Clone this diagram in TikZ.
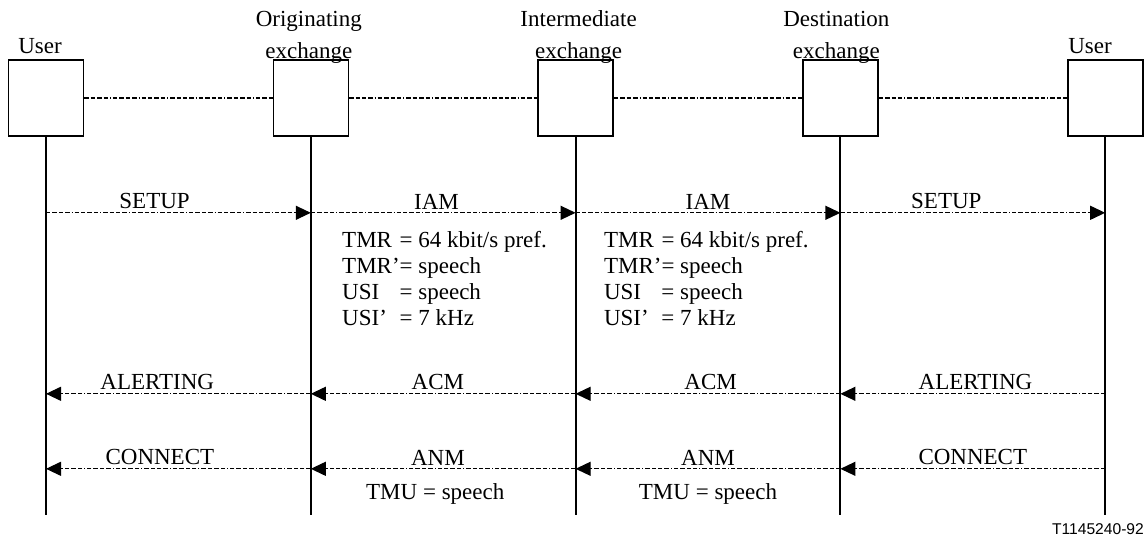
\documentclass[tikz,border=0pt]{standalone}
\usepackage{fontspec}
\setmainfont{Liberation Serif}
\newfontfamily\figidfont{Liberation Sans}
\usetikzlibrary{arrows.meta, positioning}
\tikzstyle{party} = [rectangle, minimum width=37.5pt, minimum height=38pt, inner sep=0pt, draw=black, line width=0.8pt]
\tikzstyle{partyname} = [align=center, inner sep=0pt, font=\fontsize{11.5}{16}\selectfont]
\tikzstyle{lifeline} = [line width=1pt]
\tikzstyle{link} = [line width=0.6pt, dash pattern=on 2.2pt off 1pt on 2.2pt off 1pt on 2.2pt off 1pt on 2.2pt off 1pt on 0.5pt off 1pt]
\tikzstyle{arrow} = [link, -{Triangle[length=7.5pt, width=7pt]}]
\tikzstyle{msgname} = [above=1.5pt, inner sep=0pt]
\tikzstyle{params} = [inner sep=0pt, font=\fontsize{11.5}{13}\selectfont]

\begin{document}
\begin{tikzpicture}[node distance=94.1pt, font=\fontsize{11.5}{13}\selectfont]
    \useasboundingbox (0,0) rectangle (573.5pt,-269pt);

    % parties
    \node (user_a) [party] at (23pt,-49pt) {};
    \node (orig) [party, right=of user_a] {};
    \node (inter) [party, right=of orig] {};
    \node (dest) [party, right=of inter] {};
    \node (user_b) [party, right=of dest] {};

    \node (user_a_name) [partyname, above=2.5pt of user_a, xshift=-3pt] {User};
    \node (orig_name) [partyname, above=-2.5pt of orig, xshift=-1pt] {Originating\\exchange};
    \node (inter_name) [partyname, above=-2.5pt of inter, xshift=1.5pt] {Intermediate\\exchange};
    \node (dest_name) [partyname, above=-2.5pt of dest, xshift=-2pt] {Destination\\exchange};
    \node (user_b_name) [partyname, above right=2.5pt and 0.5pt of user_b.north west] {User};

    \draw [link] (user_a) -- (orig);
    \draw [link] (orig) -- (inter);
    \draw [link] (inter) -- (dest);
    \draw [link] (dest) -- (user_b);

    % lifelines
    \coordinate [below=189pt of user_a] (user_a_end);
    \coordinate [below=189pt of orig] (orig_end);
    \coordinate [below=189pt of inter] (inter_end);
    \coordinate [below=189pt of dest] (dest_end);
    \coordinate [below=189pt of user_b] (user_b_end);
    \draw [lifeline] (user_a) -- (user_a_end);
    \draw [lifeline] (orig) -- (orig_end);
    \draw [lifeline] (inter) -- (inter_end);
    \draw [lifeline] (dest) -- (dest_end);
    \draw [lifeline] (user_b) -- (user_b_end);

    % message levels
    \coordinate [below=38pt of user_a] (setup_lvl);
    \coordinate [below=128.5pt of user_a] (alert_lvl);
    \coordinate [below=166pt of user_a] (conn_lvl);

    % call setup
    \draw [arrow] (setup_lvl) -- node[msgname, pos=0.41] {SETUP} (orig |- setup_lvl);
    \draw [arrow] (orig |- setup_lvl) -- node[msgname, pos=0.475] {IAM} (inter |- setup_lvl);
    \draw [arrow] (inter |- setup_lvl) -- node[msgname, pos=0.5] {IAM} (dest |- setup_lvl);
    \draw [arrow] (dest |- setup_lvl) -- node[msgname, pos=0.4] {SETUP} (user_b |- setup_lvl);

    \coordinate (iam_a_start) at (orig |- setup_lvl);
    \coordinate (iam_b_start) at (inter |- setup_lvl);
    \node (iam_a_params) [params, below right=7.9pt and 15.5pt of iam_a_start] {%
        \begin{tabular}{@{}l@{}l@{}}
        TMR & = 64 kbit/s pref.\\
        TMR' & = speech\\
        USI & = speech\\
        USI' & = 7 kHz
        \end{tabular}};
    \node (iam_b_params) [params, below right=7.9pt and 14pt of iam_b_start] {%
        \begin{tabular}{@{}l@{}l@{}}
        TMR & = 64 kbit/s pref.\\
        TMR' & = speech\\
        USI & = speech\\
        USI' & = 7 kHz
        \end{tabular}};

    % alerting
    \draw [arrow] (user_b |- alert_lvl) -- node[msgname, pos=0.49] {ALERTING} (dest |- alert_lvl);
    \draw [arrow] (dest |- alert_lvl) -- node[msgname, pos=0.49] {ACM} (inter |- alert_lvl);
    \draw [arrow] (inter |- alert_lvl) -- node[msgname, pos=0.52] {ACM} (orig |- alert_lvl);
    \draw [arrow] (orig |- alert_lvl) -- node[msgname, pos=0.58] {ALERTING} (alert_lvl);

    % answer
    \draw [arrow] (user_b |- conn_lvl) -- node[msgname, pos=0.5] {CONNECT} (dest |- conn_lvl);
    \draw [arrow] (dest |- conn_lvl) -- node[msgname, pos=0.5] {ANM}
        node[below=7pt, inner sep=0pt, pos=0.5] {TMU = speech} (inter |- conn_lvl);
    \draw [arrow] (inter |- conn_lvl) -- node[msgname, pos=0.52] {ANM}
        node[below=7pt, inner sep=0pt, pos=0.53] {TMU = speech} (orig |- conn_lvl);
    \draw [arrow] (orig |- conn_lvl) -- node[msgname, pos=0.57] {CONNECT} (conn_lvl);

    \node (figid) [anchor=base east, inner sep=0pt, font=\figidfont\fontsize{7.8}{9}\selectfont] at ([shift={(19.5pt,-10pt)}]user_b_end) {T1145240-92};
\end{tikzpicture}
\end{document}
